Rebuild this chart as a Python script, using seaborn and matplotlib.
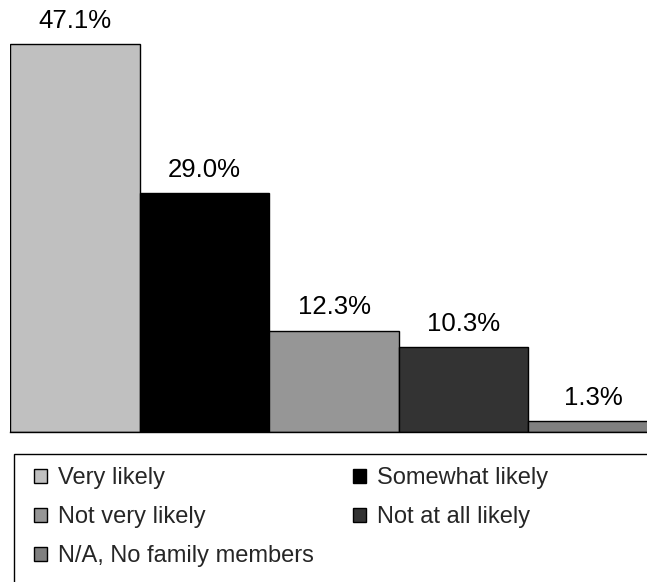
import matplotlib
matplotlib.use("Agg")
import matplotlib.pyplot as plt
from matplotlib.patches import Patch, Rectangle
import seaborn as sns
import pandas as pd

categories = ["Very likely", "Somewhat likely", "Not very likely",
              "Not at all likely", "N/A, No family members"]
values = [47.1, 29.0, 12.3, 10.3, 1.3]
colors = ["#C0C0C0", "#000000", "#969696", "#333333", "#808080"]

sns.set_theme(style="white")
plt.rcParams["font.family"] = ["Liberation Sans", "DejaVu Sans"]

df = pd.DataFrame({"category": categories, "value": values})

fig = plt.figure(figsize=(6.47, 5.82), dpi=100)
ax = fig.add_axes([10 / 647, 150 / 582, 648 / 647, 432 / 582])

sns.barplot(data=df, x="category", y="value", hue="category",
            palette=colors, order=categories, hue_order=categories,
            width=1.0, edgecolor="black", linewidth=1.0,
            legend=False, ax=ax)

for cont in ax.containers:
    ax.bar_label(cont, labels=[f"{v:.1f}%" for v in cont.datavalues],
                 padding=8, fontsize=18.5, color="black")

ax.set_xlim(-0.5, 4.5)
ax.set_ylim(0, 52.4)
ax.set_xlabel("")
ax.set_ylabel("")
ax.set_xticks([])
ax.set_yticks([])
for side in ["top", "right", "left"]:
    ax.spines[side].set_visible(False)
ax.spines["bottom"].set_color("black")
ax.spines["bottom"].set_linewidth(1.0)

# legend frame, running off the right and bottom edges
fig.patches.append(Rectangle((14 / 647, -0.05), 1.0, (582 - 454) / 582 + 0.05,
                             transform=fig.transFigure, fill=False,
                             edgecolor="black", linewidth=1.0))

handles = {c: Patch(facecolor=col, edgecolor="black", linewidth=1.0)
           for c, col in zip(categories, colors)}
legend_order = ["Very likely", "Not very likely", "N/A, No family members",
                "Somewhat likely", "Not at all likely"]
fig.legend([handles[c] for c in legend_order], legend_order,
           ncol=2, loc="upper left", bbox_to_anchor=(34 / 647, 1 - 467 / 582),
           frameon=False, fontsize=17, handlelength=0.55, handleheight=0.55,
           handletextpad=0.47, labelspacing=0.72, columnspacing=1.65,
           borderaxespad=0, borderpad=0)

fig.savefig("out.png", dpi=100)
